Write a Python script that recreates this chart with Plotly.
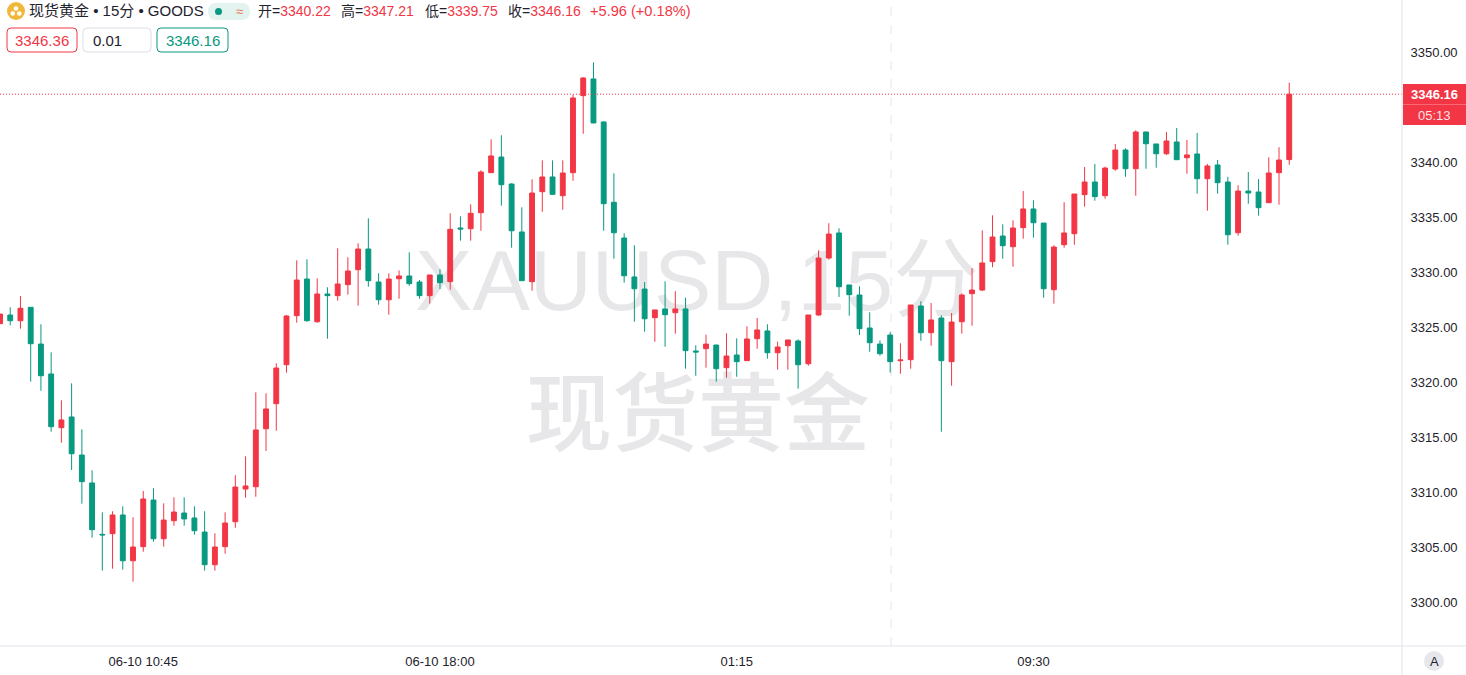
import plotly.graph_objects as go

opens = [3325.30,3326.09,3325.57,3326.79,3323.45,3320.73,3315.85,3316.82,3313.36,3310.82,
3306.15,3306.21,3307.91,3303.75,3305.03,3309.27,3305.75,3307.39,3308.09,3307.64,
3306.36,3303.39,3305.03,3307.30,3310.27,3310.48,3315.75,3318.03,3321.57,3326.03,
3329.36,3325.48,3328.00,3327.85,3328.85,3330.21,3332.09,3329.09,3327.48,3329.39,
3329.64,3329.09,3327.85,3329.73,3329.12,3334.00,3333.94,3335.39,3339.03,3340.45,
3338.00,3333.64,3329.12,3337.30,3338.64,3336.94,3339.03,3346.03,3347.55,3343.64,
3336.34,3333.09,3329.55,3328.45,3325.85,3326.64,3326.30,3326.64,3322.82,3323.03,
3323.36,3321.30,3322.45,3321.94,3323.94,3324.64,3322.66,3323.30,3323.73,3321.66,
3326.09,3331.27,3333.55,3328.82,3327.91,3324.91,3323.45,3324.27,3321.94,3322.03,
3326.91,3324.48,3325.82,3321.85,3325.48,3328.03,3328.36,3330.94,3333.27,3332.30,
3334.03,3335.73,3334.45,3328.39,3332.48,3333.48,3337.03,3338.18,3336.94,3339.36,
3341.09,3339.39,3342.73,3341.64,3340.75,3341.82,3340.39,3340.73,3338.48,3339.73,
3338.18,3333.57,3337.36,3337.27,3336.30,3339.03,3340.22]

highs = [3326.18,3326.79,3327.82,3326.79,3325.25,3322.70,3318.34,3319.88,3315.70,3311.97,
3308.15,3308.25,3308.70,3307.70,3310.09,3310.34,3308.97,3309.52,3309.52,3308.70,
3308.25,3306.25,3308.15,3311.52,3313.25,3319.06,3318.97,3321.70,3326.09,3331.06,
3331.15,3329.43,3328.61,3332.15,3331.34,3332.61,3334.88,3329.88,3329.88,3330.15,
3331.79,3329.27,3329.73,3330.25,3335.34,3335.06,3336.15,3339.25,3342.06,3342.43,
3338.06,3335.88,3338.43,3340.15,3340.15,3340.15,3346.12,3347.70,3349.06,3343.70,
3338.97,3333.52,3332.43,3329.09,3326.55,3329.15,3328.25,3327.66,3323.34,3324.30,
3323.39,3324.43,3323.97,3325.06,3325.82,3325.25,3323.66,3323.82,3323.88,3326.09,
3331.97,3334.43,3333.97,3328.82,3328.70,3326.34,3323.79,3324.55,3323.52,3327.00,
3327.34,3327.18,3326.06,3326.27,3328.06,3330.34,3333.79,3335.15,3334.34,3334.70,
3337.36,3336.52,3334.45,3332.43,3336.34,3337.09,3339.55,3339.82,3339.57,3341.64,
3341.25,3342.88,3342.73,3341.64,3342.73,3343.09,3342.00,3342.64,3339.82,3340.18,
3338.66,3337.88,3339.09,3338.45,3340.43,3341.34,3347.21]

lows = [3325.27,3325.15,3324.85,3320.03,3319.21,3315.48,3314.48,3312.00,3308.94,3305.85,
3302.85,3303.03,3302.94,3301.85,3304.57,3305.48,3305.03,3306.94,3306.94,3306.12,
3302.85,3302.85,3304.39,3306.75,3309.48,3309.57,3313.73,3315.57,3320.85,3325.39,
3325.48,3325.39,3323.94,3327.39,3327.94,3326.94,3328.66,3327.03,3326.12,3327.57,
3328.75,3327.57,3327.12,3328.45,3328.39,3332.85,3332.85,3333.75,3339.03,3336.03,
3332.21,3329.21,3328.30,3335.48,3337.06,3335.66,3338.30,3342.57,3343.52,3333.75,
3331.21,3329.03,3325.48,3324.57,3323.66,3323.21,3324.39,3321.21,3320.57,3321.30,
3320.03,3320.39,3320.48,3321.94,3323.03,3322.12,3321.12,3321.12,3319.39,3321.48,
3326.03,3331.12,3327.73,3326.03,3324.27,3322.75,3322.39,3320.85,3320.75,3321.21,
3323.75,3323.30,3315.48,3319.66,3324.39,3325.12,3328.27,3330.43,3331.21,3330.48,
3333.03,3333.12,3327.66,3327.12,3332.21,3332.48,3335.94,3336.48,3336.66,3339.21,
3338.66,3336.94,3339.39,3339.48,3340.64,3340.21,3338.94,3337.12,3335.57,3337.12,
3332.48,3333.30,3336.21,3335.12,3336.30,3336.12,3339.75]

closes = [3326.18,3325.57,3326.70,3323.48,3320.57,3315.94,3316.55,3313.48,3310.94,3306.57,
3306.10,3307.91,3303.75,3305.00,3309.36,3305.75,3307.45,3308.18,3307.55,3306.48,
3303.39,3305.00,3307.18,3310.45,3310.55,3315.64,3317.55,3321.27,3326.00,3329.27,
3325.57,3328.00,3327.85,3328.91,3330.09,3332.09,3329.21,3327.48,3329.36,3329.64,
3328.94,3327.85,3329.73,3329.03,3333.88,3333.91,3335.34,3339.09,3340.55,3337.94,
3333.75,3329.21,3337.18,3338.64,3337.06,3339.00,3345.82,3347.64,3343.55,3336.21,
3333.57,3329.66,3328.48,3325.75,3326.55,3326.12,3326.64,3322.85,3322.73,3323.45,
3321.21,3322.36,3321.85,3323.91,3324.73,3322.66,3323.18,3323.82,3321.57,3326.09,
3331.27,3333.45,3328.66,3327.94,3324.85,3323.57,3322.57,3321.85,3322.00,3327.00,
3324.48,3325.64,3321.94,3325.45,3327.91,3328.36,3330.82,3333.18,3332.39,3334.00,
3335.73,3334.48,3328.48,3332.27,3333.55,3337.09,3338.18,3336.85,3339.45,3341.09,
3339.39,3342.73,3341.66,3340.75,3341.91,3340.21,3340.64,3338.48,3339.64,3338.12,
3333.39,3337.36,3337.18,3335.85,3339.00,3340.18,3346.16]

bar_index = list(range(len(opens)))
x_tick_positions = [14, 43, 72, 101]
x_tick_labels = ["06-10 10:45", "06-10 18:00", "01:15", "09:30"]
y_ticks = [3300, 3305, 3310, 3315, 3320, 3325, 3330, 3335, 3340, 3350]
last_price = 3346.16

RED = "#f23645"
GREEN = "#089981"
GRID = "#e0e3eb"
INK = "#1e222d"
LATIN = "Liberation Sans, Arial, sans-serif"
CJK = "Liberation Sans, Noto Sans CJK SC, sans-serif"

PW, PH = 1402, 646


def fx(p):
    return p / PW


def fy(p):
    return 1 - p / PH


def rounded(x0, y0, x1, y1, r):
    a, b, c, d = fx(x0), fx(x1), fy(y0), fy(y1)
    ra, rb = fx(r), r / PH
    return (f"M{a+ra},{c} L{b-ra},{c} Q{b},{c} {b},{c-rb} L{b},{d+rb} Q{b},{d} {b-ra},{d} "
            f"L{a+ra},{d} Q{a},{d} {a},{d+rb} L{a},{c-rb} Q{a},{c} {a+ra},{c} Z")


def box(x0, y0, x1, y1, r, line=None, fill="#ffffff", layer="above", width=1):
    return dict(type="path", xref="paper", yref="paper", path=rounded(x0, y0, x1, y1, r),
                line=dict(color=line or "rgba(0,0,0,0)", width=width), fillcolor=fill, layer=layer)


def circle(cx, cy, r, fill):
    return dict(type="circle", xref="paper", yref="paper", x0=fx(cx - r), x1=fx(cx + r),
                y0=fy(cy + r), y1=fy(cy - r), fillcolor=fill, line=dict(width=0), layer="above")


def text(x, y, s, size=13, color=INK, anchor="left", family=CJK):
    return dict(xref="paper", yref="paper", x=fx(x), y=fy(y), text=s, showarrow=False,
                xanchor=anchor, yanchor="middle", borderpad=0,
                font=dict(size=size, color=color, family=family))


def watermark(s, cx, cy, w, h, size, weight):
    return dict(type="rect", xref="paper", yref="paper", layer="below",
                x0=fx(cx - w / 2), x1=fx(cx + w / 2), y0=fy(cy + h / 2), y1=fy(cy - h / 2),
                line=dict(width=0), fillcolor="rgba(0,0,0,0)",
                label=dict(text=s, textposition="middle center",
                           font=dict(size=size, color="#e7e7e9", weight=weight,
                                     family="Liberation Sans, Noto Sans CJK SC")))


fig = go.Figure(go.Candlestick(
    x=bar_index, open=opens, high=highs, low=lows, close=closes,
    increasing=dict(line=dict(color=RED, width=1), fillcolor=RED),
    decreasing=dict(line=dict(color=GREEN, width=1), fillcolor=GREEN),
    whiskerwidth=0, hoverinfo="skip", showlegend=False,
))

shapes = [
    watermark("XAUUSD,15分", 697, 272, 700, 110, 86, 400),
    watermark("现货黄金", 698, 407, 500, 110, 86, 500),
    # crosshair
    dict(type="line", xref="x", yref="paper", x0=87.08, x1=87.08, y0=0, y1=1,
         line=dict(color="#e4e6ec", width=1, dash="dash"), layer="below"),
    # last-price line
    dict(type="line", xref="paper", yref="y", x0=0, x1=1, y0=last_price, y1=last_price,
         line=dict(color=RED, width=1, dash="1px,2px"), layer="above"),
    # frame
    dict(type="line", xref="paper", yref="paper", x0=0, x1=fx(1466), y0=0, y1=0,
         line=dict(color=GRID, width=1), layer="above"),
    dict(type="line", xref="paper", yref="paper", x0=1, x1=1, y0=fy(675), y1=1,
         line=dict(color=GRID, width=1), layer="above"),
    # price tag
    dict(type="rect", xref="paper", yref="paper", x0=fx(1403), x1=fx(1466), y0=fy(125), y1=fy(84),
         fillcolor=RED, line=dict(width=0), layer="above"),
    dict(type="line", xref="paper", yref="paper", x0=fx(1403), x1=fx(1466), y0=fy(104.5), y1=fy(104.5),
         line=dict(color="#f76a75", width=1), layer="above"),
    # header coin
    circle(16, 11, 9, "#f0b83a"),
    circle(16, 8.5, 2.3, "#ffffff"),
    circle(12.7, 13.5, 2.3, "#ffffff"),
    circle(19.3, 13.5, 2.3, "#ffffff"),
    # status pill
    box(208, 3, 250, 20, 8.5, fill="#e2f3f0"),
    circle(218.5, 11.5, 3.5, GREEN),
    # order boxes
    box(7, 28, 77, 52, 4, line=RED),
    box(83, 28, 151, 52, 4, line="#dcdee4"),
    box(157, 28, 228, 52, 4, line=GREEN),
    # auto-scale badge
    circle(1434, 661, 10, "#e6e7ec"),
]

annotations = [
    text(28, 11, "现货黄金 • 15分 • GOODS", 15),
    text(239, 11.5, "≈", 13, "#e8734a", "center"),
    text(257, 11, f'开=<span style="color:{RED}">3340.22</span>', 14),
    text(340, 11, f'高=<span style="color:{RED}">3347.21</span>', 14),
    text(424, 11, f'低=<span style="color:{RED}">3339.75</span>', 14),
    text(507, 11, f'收=<span style="color:{RED}">3346.16</span>', 14),
    text(589, 11, "+5.96 (+0.18%)", 14.6, RED),
    text(42, 40, "3346.36", 15, RED, "center"),
    text(92, 40, "0.01", 15, INK),
    text(192.5, 40, "3346.16", 15, GREEN, "center"),
    text(1434, 94.5, "<b>3346.16</b>", 13, "#ffffff", "center", LATIN),
    text(1434, 115, "05:13", 13, "#ffe3e6", "center", LATIN),
    text(1434, 661, "A", 13, INK, "center", LATIN),
]

fig.update_layout(
    width=1466, height=675, autosize=False,
    margin=dict(l=0, r=64, t=0, b=29, pad=0),
    paper_bgcolor="#ffffff", plot_bgcolor="#ffffff",
    showlegend=False, hovermode=False, boxgap=0.32,
    shapes=shapes, annotations=annotations,
    font=dict(family=LATIN, color=INK),
    xaxis=dict(
        range=[0.0, 137.02], rangeslider=dict(visible=False), showgrid=False, zeroline=False,
        showline=False, tickmode="array", tickvals=x_tick_positions, ticktext=x_tick_labels,
        ticks="outside", ticklen=3, tickcolor="rgba(0,0,0,0)", tickfont=dict(size=13, color=INK, family=LATIN),
    ),
    yaxis=dict(
        range=[3296, 3354.727], side="right", showgrid=False, zeroline=False, showline=False,
        tickmode="array", tickvals=y_ticks, tickformat=".2f",
        ticks="outside", ticklen=5, tickcolor="rgba(0,0,0,0)", tickfont=dict(size=13, color=INK, family=LATIN),
    ),
)

fig.write_html("out.html", config=dict(displayModeBar=False),
               post_script="document.body.style.margin='0';document.body.style.overflow='hidden';")
